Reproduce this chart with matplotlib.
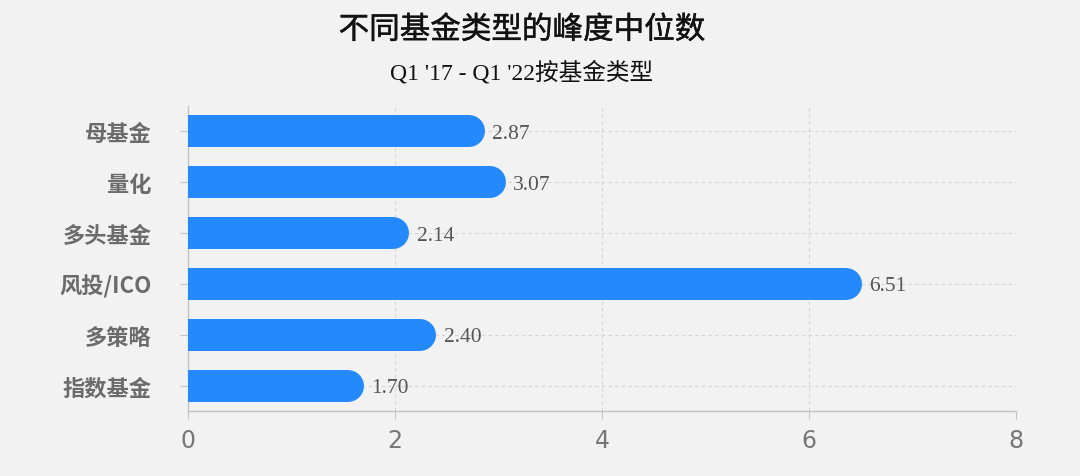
import matplotlib
matplotlib.use("Agg")
import matplotlib.pyplot as plt
import matplotlib.patheffects as pe
import numpy as np

categories = ["母基金", "量化", "多头基金", "风投/ICO", "多策略", "指数基金"]
values = [2.87, 3.07, 2.14, 6.51, 2.40, 1.70]
x_ticks = [0, 2, 4, 6, 8]

TITLE = "不同基金类型的峰度中位数"
SUBTITLE = "Q1 '17 - Q1 '22按基金类型"

BG = "#F2F2F2"
BAR = "#2589FE"
GRID = "#D4D4D4"
SPINE = "#C4C4C4"
LABEL = "#6B6B6B"

CJK = ["Noto Sans CJK SC", "DejaVu Sans"]
SERIF = ["Liberation Serif", "Noto Sans CJK SC"]

plt.rcParams["font.family"] = CJK

fig = plt.figure(figsize=(10.8, 4.77), dpi=100)
fig.patch.set_facecolor(BG)
ax = fig.add_axes([0.174, 0.1363, 0.7667, 0.6394])
ax.set_facecolor(BG)

n = len(categories)
ypos = np.arange(n)[::-1]
ax.set_xlim(0, 8)
ax.set_ylim(-0.5, n - 0.5)

# grid
for x in x_ticks[1:]:
    ax.axvline(x, color=GRID, lw=0.8, ls=(0, (3, 3)), zorder=0)
for y in ypos:
    ax.axhline(y, color=GRID, lw=0.8, ls=(0, (3, 3)), zorder=0)

# rounded-end bars: thick line with round cap, left cap clipped by axes
bar_px = 32
fig.canvas.draw()
px_per_unit = ax.transData.transform((1, 0))[0] - ax.transData.transform((0, 0))[0]
r = bar_px / 2 / px_per_unit
lw_pt = bar_px * 72 / fig.dpi
for y, v in zip(ypos, values):
    ax.plot([-1, v - r], [y, y], color=BAR, lw=lw_pt, solid_capstyle="round",
            zorder=3)
    ax.text(v + 0.07, y - 0.04, f"{v:.2f}", va="center", ha="left",
            fontsize=15.5, color="#555555", family=SERIF, zorder=4)

ax.set_yticks(ypos)
ax.set_yticklabels(categories, fontsize=16, color=LABEL, fontweight="bold")
ax.set_xticks(x_ticks)
ax.set_xticklabels([str(t) for t in x_ticks], fontsize=17, color="#777777",
                   family=["Liberation Sans Narrow", "DejaVu Sans"])
ax.tick_params(axis="y", length=6, color=SPINE, pad=20)
ax.tick_params(axis="x", length=6, color=SPINE, pad=6)

for s in ("top", "right"):
    ax.spines[s].set_visible(False)
for s in ("left", "bottom"):
    ax.spines[s].set_color(SPINE)
    ax.spines[s].set_linewidth(1.0)

fig.text(0.483, 0.935, TITLE, ha="center", va="center", fontsize=22,
         color="#111111",
         path_effects=[pe.withStroke(linewidth=0.3, foreground="#111111")])
fig.text(0.483, 0.848, SUBTITLE, ha="center", va="center", fontsize=17,
         color="#111111", family=SERIF)

fig.savefig("out.png", dpi=100, facecolor=BG)
